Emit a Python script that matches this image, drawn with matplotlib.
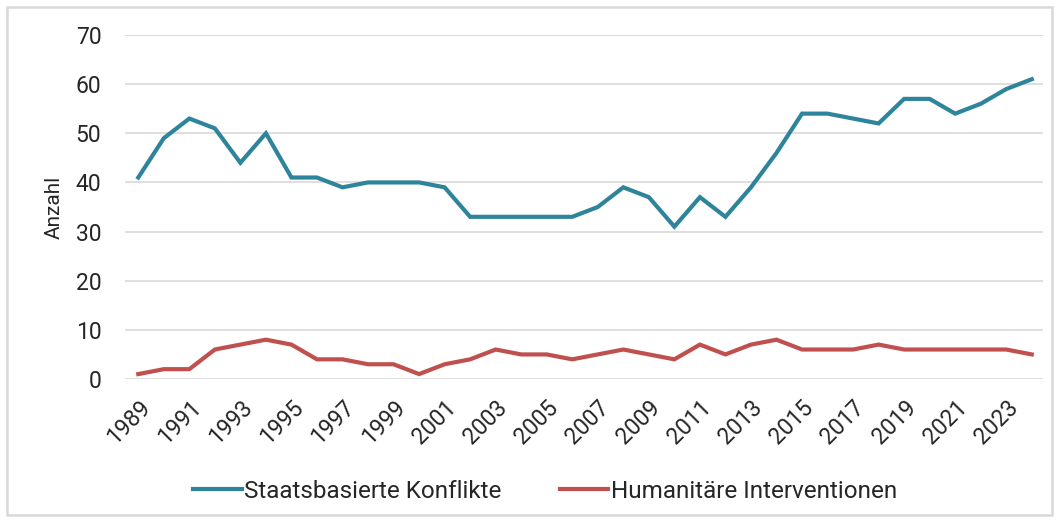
import matplotlib
matplotlib.use("Agg")
import matplotlib.pyplot as plt
from matplotlib.patches import Rectangle

years = list(range(1989, 2025))
staatsbasiert = [41, 49, 53, 51, 44, 50, 41, 41, 39, 40, 40, 40, 39, 33, 33, 33, 33, 33,
                 35, 39, 37, 31, 37, 33, 39, 46, 54, 54, 53, 52, 57, 57, 54, 56, 59, 61]
humanitaer = [1, 2, 2, 6, 7, 8, 7, 4, 4, 3, 3, 1, 3, 4, 6, 5, 5, 4,
              5, 6, 5, 4, 7, 5, 7, 8, 6, 6, 6, 7, 6, 6, 6, 6, 6, 5]
tick_years = years[::2]  # 1989, 1991, ... 2023
y_ticks = [0, 10, 20, 30, 40, 50, 60, 70]

BLUE = "#2E849B"
RED = "#C0504D"
GRID = "#D9D9D9"

plt.rcParams["font.family"] = ["Roboto", "DejaVu Sans"]

fig = plt.figure(figsize=(10.61, 5.22), dpi=100)
ax = fig.add_axes([125 / 1061, 1 - 379 / 522, (1043 - 125) / 1061, (379 - 35) / 522])

ax.plot(years, staatsbasiert, color=BLUE, lw=3, solid_joinstyle="miter",
        label="Staatsbasierte Konflikte")
ax.plot(years, humanitaer, color=RED, lw=3, solid_joinstyle="miter",
        label="Humanitäre Interventionen")

ax.set_xlim(1988.48, 2024.44)
ax.set_ylim(0, 70)
ax.set_yticks(y_ticks)
ax.set_xticks(tick_years)
ax.set_xticklabels([str(y) for y in tick_years], rotation=45, ha="right",
                   rotation_mode="anchor")
ax.tick_params(axis="both", length=0, labelsize=16.5, colors="#262626")
ax.tick_params(axis="y", pad=17)
ax.tick_params(axis="x", pad=12)

ax.grid(axis="y", color=GRID, lw=1.2)
ax.set_axisbelow(True)
for s in ax.spines.values():
    s.set_visible(False)

ax.set_ylabel("Anzahl", fontsize=15, color="#262626", labelpad=9)

leg = fig.legend(loc="center", bbox_to_anchor=(545 / 1061, 1 - 491 / 522), ncol=2,
                 frameon=False, fontsize=17.5, handlelength=2.0, handletextpad=0.1,
                 columnspacing=2.4)
for t in leg.get_texts():
    t.set_color("#262626")

# light grey frame around the whole chart
fig.patches.append(Rectangle((7 / 1061, 7 / 522), 1045 / 1061, 508 / 522,
                             transform=fig.transFigure, fill=False,
                             edgecolor=GRID, lw=1.8))

fig.savefig("out.png", dpi=100)
